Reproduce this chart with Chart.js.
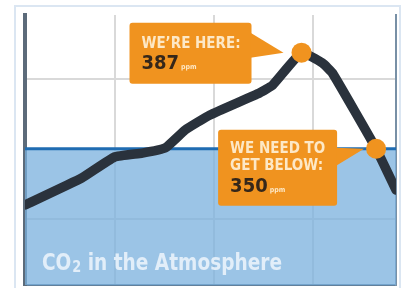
<!DOCTYPE html>
<html>
<head>
<meta charset="utf-8">
<title>CO2 in the Atmosphere</title>
<script src="https://cdn.jsdelivr.net/npm/chart.js"></script>
<style>
  html, body { margin: 0; padding: 0; background: #fff; overflow: hidden; }
  canvas { display: block; }
</style>
</head>
<body>
<canvas id="co2Chart" width="406" height="288"></canvas>
<script>
// curve (year, ppm)
var years = [1981, 1986.7, 1990, 1992.8, 1995.1, 1997.1, 1999.6, 2004.6, 2005.9, 2008.8, 2010.9, 2011.9, 2016.3, 2018.3];
var ppm   = [328.3, 338.7, 346.8, 348.3, 350.3, 357.2, 363, 371.5, 374.5, 387, 383, 379.2, 350, 334.1];

// the two orange markers
var markYears = [2008.8, 2016.3];
var markPpm   = [387, 350];

var target = 350;
var xRange = [1981, 2018.3];
var yRange = [297.5, 401.5];
var xGrid  = [1990, 2000, 2010];
var yGrid  = [323, 350, 377];

var callouts = [
    { lines: ['WE\u2019RE HERE:'], value: '387', unit: 'ppm' },
    { lines: ['WE NEED TO', 'GET BELOW:'], value: '350', unit: 'ppm' }
];
var title = ['CO', '2', ' in the Atmosphere'];

var ORANGE = '#f0931f';
var CREAM = '#fde8c6';
var FONT = "'DejaVu Sans Condensed', 'DejaVu Sans', sans-serif";

function roundRect(ctx, x, y, w, h, r) {
    ctx.beginPath();
    ctx.moveTo(x + r, y);
    ctx.arcTo(x + w, y, x + w, y + h, r);
    ctx.arcTo(x + w, y + h, x, y + h, r);
    ctx.arcTo(x, y + h, x, y, r);
    ctx.arcTo(x, y, x + w, y, r);
    ctx.closePath();
}

// light outer frame
var framePlugin = {
    id: 'frame',
    beforeDraw: function (chart) {
        var ctx = chart.ctx, a = chart.chartArea;
        ctx.save();
        ctx.strokeStyle = '#dbe6f2';
        ctx.lineWidth = 2;
        ctx.strokeRect(a.left - 10, a.top - 9, a.right - a.left + 14, a.bottom - a.top + 40);
        ctx.restore();
    }
};

// speech-bubble labels + title
var labelPlugin = {
    id: 'labels',
    afterDatasetsDraw: function (chart) {
        var ctx = chart.ctx, a = chart.chartArea;
        var xs = chart.scales.x, ys = chart.scales.y;
        ctx.save();

        // bubble 1 : left of the peak
        var p = { x: xs.getPixelForValue(markYears[0]), y: ys.getPixelForValue(markPpm[0]) };
        var bx = p.x - 172, by = p.y - 30, bw = 122, bh = 61;
        ctx.fillStyle = ORANGE;
        roundRect(ctx, bx, by, bw, bh, 3);
        ctx.fill();
        ctx.beginPath();
        ctx.moveTo(bx + bw - 1, p.y - 20);
        ctx.lineTo(p.x - 18, p.y);
        ctx.lineTo(bx + bw - 1, p.y + 5);
        ctx.closePath();
        ctx.fill();
        drawText(ctx, callouts[0], bx + 12, [by + 25], by + 46);

        // bubble 2 : left of the 350 marker
        p = { x: xs.getPixelForValue(markYears[1]), y: ys.getPixelForValue(markPpm[1]) };
        bx = p.x - 158; by = p.y - 19; bw = 119; bh = 76;
        ctx.fillStyle = ORANGE;
        roundRect(ctx, bx, by, bw, bh, 3);
        ctx.fill();
        ctx.beginPath();
        ctx.moveTo(bx + bw - 1, p.y - 1);
        ctx.lineTo(p.x - 12, p.y);
        ctx.lineTo(bx + bw - 1, p.y + 17);
        ctx.closePath();
        ctx.fill();
        drawText(ctx, callouts[1], bx + 12, [by + 23, by + 40], by + 62);

        // title inside the plot, squeezed to the reference width
        ctx.fillStyle = 'rgba(236,244,252,0.88)';
        ctx.textBaseline = 'alphabetic';
        var tx = a.left + 17, ty = a.bottom - 15;
        ctx.font = 'bold 23px ' + FONT;
        var w0 = ctx.measureText(title[0]).width, w2 = ctx.measureText(title[2]).width;
        ctx.font = 'bold 16px ' + FONT;
        var w1 = ctx.measureText(title[1]).width;
        var sx = 240 / (w0 + w1 + w2 + 1);
        ctx.translate(tx, ty);
        ctx.scale(sx, 1);
        ctx.font = 'bold 23px ' + FONT;
        ctx.fillText(title[0], 0, 0);
        ctx.font = 'bold 16px ' + FONT;
        ctx.fillText(title[1], w0 + 1, 2);
        ctx.font = 'bold 23px ' + FONT;
        ctx.fillText(title[2], w0 + 1 + w1, 0);

        ctx.restore();
    }
};

function drawText(ctx, c, x, lineYs, valueY) {
    ctx.textBaseline = 'alphabetic';
    ctx.fillStyle = CREAM;
    ctx.font = 'bold 15px ' + FONT;
    c.lines.forEach(function (t, i) { ctx.fillText(t, x, lineYs[i]); });
    ctx.fillStyle = '#35271a';
    ctx.font = 'bold 20px ' + FONT;
    ctx.fillText(c.value, x, valueY);
    var w = ctx.measureText(c.value).width;
    ctx.fillStyle = CREAM;
    ctx.font = 'bold 7px ' + FONT;
    ctx.fillText(c.unit, x + w + 2, valueY);
}

var ctx = document.getElementById('co2Chart').getContext('2d');
var chart = new Chart(ctx, {
    type: 'line',
    data: {
        datasets: [
            {
                label: 'markers',
                data: markYears.map(function (x, i) { return { x: x, y: markPpm[i] }; }),
                showLine: false,
                pointRadius: 10,
                pointHoverRadius: 10,
                pointBackgroundColor: ORANGE,
                pointBorderWidth: 0,
                order: 0
            },
            {
                label: 'CO2',
                data: years.map(function (x, i) { return { x: x, y: ppm[i] }; }),
                borderColor: '#2a323c',
                borderWidth: 9.5,
                borderJoinStyle: 'round',
                borderCapStyle: 'round',
                tension: 0.12,
                pointRadius: 0,
                fill: false,
                clip: 0,
                order: 1
            },
            {
                label: 'target',
                data: xRange.map(function (x) { return { x: x, y: target }; }),
                borderColor: '#1f6cb2',
                borderWidth: 3,
                backgroundColor: 'rgba(122,176,222,0.75)',
                pointRadius: 0,
                fill: 'start',
                clip: 0,
                order: 2
            }
        ]
    },
    options: {
        responsive: false,
        animation: false,
        devicePixelRatio: 1,
        layout: { autoPadding: false, padding: { left: 25, top: 15, right: 10, bottom: 3 } },
        plugins: {
            legend: { display: false },
            tooltip: { enabled: false },
            title: { display: false }
        },
        scales: {
            x: {
                type: 'linear',
                min: xRange[0],
                max: xRange[1],
                afterBuildTicks: function (s) { s.ticks = xGrid.map(function (v) { return { value: v }; }); },
                ticks: { display: false },
                grid: { color: '#d9d9d9', lineWidth: 2, drawTicks: false },
                border: { color: '#62809b', width: 2 }
            },
            y: {
                type: 'linear',
                min: yRange[0],
                max: yRange[1],
                afterBuildTicks: function (s) { s.ticks = yGrid.map(function (v) { return { value: v }; }); },
                ticks: { display: false },
                grid: { color: '#d9d9d9', lineWidth: 2, drawTicks: false },
                border: { color: '#5c6b7a', width: 4 }
            },
            y2: {
                position: 'right',
                ticks: { display: false },
                grid: { display: false, drawTicks: false },
                border: { color: '#7890a6', width: 2 }
            }
        }
    },
    plugins: [framePlugin, labelPlugin]
});
</script>
</body>
</html>
